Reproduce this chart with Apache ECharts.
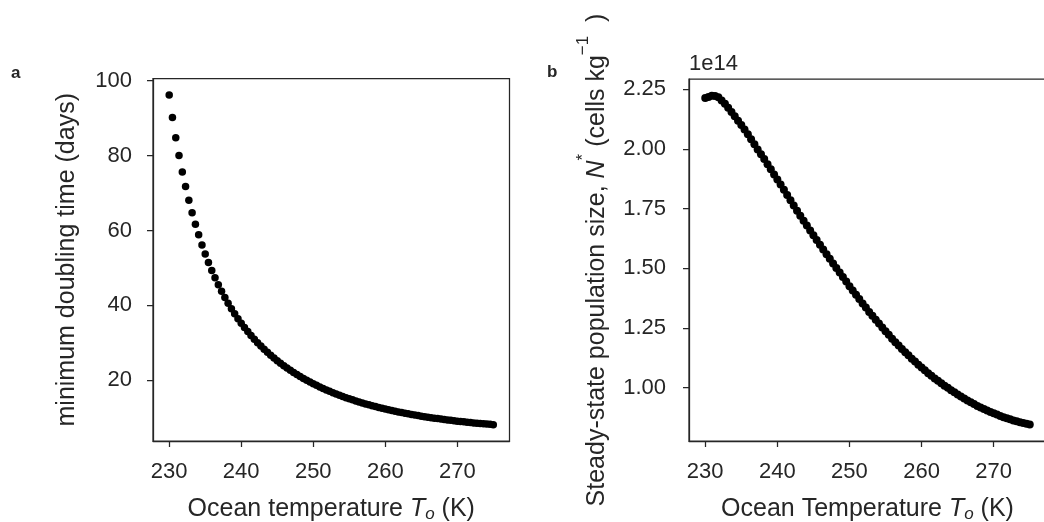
<!DOCTYPE html>
<html><head><meta charset="utf-8">
<script src="https://cdn.jsdelivr.net/npm/echarts@6/dist/echarts.min.js"></script>
<style>html,body{margin:0;padding:0;background:#fff}#c{width:1044px;height:522px}</style>
</head><body><div id="c"></div>
<script>
const temperatureK = [
230.00,230.45,230.91,231.36,231.82,232.27,232.73,233.18,233.64,234.09,
234.55,235.00,235.45,235.91,236.36,236.82,237.27,237.73,238.18,238.64,
239.09,239.55,240.00,240.45,240.91,241.36,241.82,242.27,242.73,243.18,
243.64,244.09,244.55,245.00,245.45,245.91,246.36,246.82,247.27,247.73,
248.18,248.64,249.09,249.55,250.00,250.45,250.91,251.36,251.82,252.27,
252.73,253.18,253.64,254.09,254.55,255.00,255.45,255.91,256.36,256.82,
257.27,257.73,258.18,258.64,259.09,259.55,260.00,260.45,260.91,261.36,
261.82,262.27,262.73,263.18,263.64,264.09,264.55,265.00,265.45,265.91,
266.36,266.82,267.27,267.73,268.18,268.64,269.09,269.55,270.00,270.45,
270.91,271.36,271.82,272.27,272.73,273.18,273.64,274.09,274.55,275.00];
const doublingTimeDays = [
96.2,90.2,84.8,80.05,75.66,71.73,68.06,64.77,61.65,58.85,
56.16,53.76,51.48,49.35,47.37,45.50,43.77,42.12,40.60,39.13,
37.78,36.47,35.27,34.12,33.02,31.98,30.98,30.05,29.14,28.30,
27.47,26.71,25.95,25.25,24.57,23.92,23.30,22.69,22.12,21.56,
21.03,20.52,20.03,19.55,19.10,18.68,18.24,17.85,17.45,17.07,
16.71,16.36,16.02,15.70,15.38,15.07,14.79,14.50,14.23,13.96,
13.70,13.46,13.22,12.99,12.77,12.55,12.34,12.14,11.94,11.76,
11.57,11.40,11.22,11.06,10.90,10.74,10.59,10.44,10.30,10.16,
10.03,9.90,9.78,9.65,9.54,9.42,9.31,9.20,9.10,9.01,
8.91,8.82,8.73,8.64,8.55,8.47,8.39,8.32,8.24,8.17];
// steady-state population size, in units of 1e14 cells/kg
const populationE14 = [
2.213,2.218,2.223,2.222,2.216,2.203,2.189,2.173,2.155,2.137,
2.118,2.100,2.081,2.061,2.041,2.020,1.998,1.978,1.958,1.936,
1.915,1.893,1.872,1.851,1.829,1.807,1.785,1.763,1.741,1.720,
1.699,1.679,1.658,1.638,1.618,1.598,1.579,1.559,1.540,1.520,
1.501,1.482,1.463,1.444,1.425,1.407,1.389,1.371,1.352,1.335,
1.317,1.301,1.284,1.268,1.252,1.236,1.221,1.205,1.190,1.176,
1.162,1.148,1.135,1.121,1.109,1.096,1.084,1.072,1.060,1.049,
1.038,1.028,1.018,1.008,0.999,0.989,0.980,0.971,0.962,0.954,
0.946,0.938,0.931,0.923,0.916,0.910,0.904,0.898,0.892,0.887,
0.881,0.876,0.871,0.867,0.862,0.859,0.855,0.851,0.848,0.845];
const xTicks = [230, 240, 250, 260, 270];
const yTicksLeft = [20, 40, 60, 80, 100];
const yTicksRight = [1.00, 1.25, 1.50, 1.75, 2.00, 2.25];

const INK = '#262626';
const FONT = '"Liberation Sans", Arial, sans-serif';
const TICK_FS = 22, LABEL_FS = 25;

const chart = echarts.init(document.getElementById('c'), null, {renderer: 'canvas'});

function xAxisCfg(gridIndex, nameRich) {
  return {
    type: 'value', gridIndex, min: 227.75, max: 277.25,
    axisLine: {show: true, onZero: false, lineStyle: {color: INK, width: 1.25}},
    axisTick: {show: true, length: 6, inside: false, customValues: xTicks, lineStyle: {color: INK, width: 1.25}},
    axisLabel: {customValues: xTicks, color: INK, fontFamily: FONT, fontSize: TICK_FS, margin: 20, formatter: v => String(Math.round(v))},
    splitLine: {show: false},
    name: nameRich, nameLocation: 'middle', nameGap: 54,
    nameTextStyle: {
      color: INK, fontFamily: FONT, fontSize: LABEL_FS,
      rich: {
        n: {color: INK, fontFamily: FONT, fontSize: LABEL_FS, lineHeight: 28},
        it: {color: INK, fontFamily: FONT, fontSize: LABEL_FS, fontStyle: 'italic', lineHeight: 28},
        sub: {color: INK, fontFamily: FONT, fontSize: 17, fontStyle: 'italic', verticalAlign: 'bottom', lineHeight: 15}
      }
    }
  };
}

const option = {
  animation: false,
  backgroundColor: '#ffffff',
  grid: [
    {left: 153, top: 78.5, width: 356.5, height: 362.5, show: true, borderColor: INK, borderWidth: 1.25, containLabel: false, outerBoundsMode: 'none'},
    {left: 689, top: 79, width: 357, height: 362, show: true, borderColor: INK, borderWidth: 1.25, containLabel: false, outerBoundsMode: 'none'}
  ],
  xAxis: [
    xAxisCfg(0, '{n|Ocean temperature }{it|T}{sub|o}{n| (K)}'),
    xAxisCfg(1, '{n|Ocean Temperature }{it|T}{sub|o}{n| (K)}')
  ],
  yAxis: [
    {
      type: 'value', gridIndex: 0, min: 3.8, max: 100.6,
      axisLine: {show: true, onZero: false, lineStyle: {color: INK, width: 1.25}},
      axisTick: {show: true, length: 6, customValues: yTicksLeft, lineStyle: {color: INK, width: 1.25}},
      axisLabel: {customValues: yTicksLeft, color: INK, fontFamily: FONT, fontSize: TICK_FS, margin: 21, formatter: v => String(Math.round(v))},
      splitLine: {show: false},
      name: 'minimum doubling time (days)', nameLocation: 'middle', nameRotate: 90, nameGap: 73,
      nameTextStyle: {color: INK, fontFamily: FONT, fontSize: LABEL_FS}
    },
    {
      type: 'value', gridIndex: 1, min: 0.776, max: 2.293,
      axisLine: {show: true, onZero: false, lineStyle: {color: INK, width: 1.25}},
      axisTick: {show: true, length: 6, customValues: yTicksRight, lineStyle: {color: INK, width: 1.25}},
      axisLabel: {customValues: yTicksRight, color: INK, fontFamily: FONT, fontSize: TICK_FS, margin: 23, formatter: v => v.toFixed(2)},
      splitLine: {show: false},
      name: '{n|Steady-state population size, }{it|N}{star|*}{n| (cells kg}{sup|−1}{n|  )}',
      nameLocation: 'middle', nameRotate: 90, nameGap: 70,
      nameTextStyle: {
        color: INK, fontFamily: FONT, fontSize: LABEL_FS,
        rich: {
          n: {color: INK, fontFamily: FONT, fontSize: LABEL_FS, lineHeight: 44},
          it: {color: INK, fontFamily: FONT, fontSize: LABEL_FS, fontStyle: 'italic', lineHeight: 44},
          star: {color: INK, fontFamily: FONT, fontSize: 17, verticalAlign: 'top', lineHeight: 24},
          sup: {color: INK, fontFamily: FONT, fontSize: 17, verticalAlign: 'top', lineHeight: 10}
        }
      }
    }
  ],
  series: [
    {
      type: 'scatter', xAxisIndex: 0, yAxisIndex: 0,
      data: temperatureK.map((t, i) => [t, doublingTimeDays[i]]),
      symbol: 'circle', symbolSize: 7.5, itemStyle: {color: '#000000', opacity: 1}, silent: true
    },
    {
      type: 'scatter', xAxisIndex: 1, yAxisIndex: 1,
      data: temperatureK.map((t, i) => [t, populationE14[i]]),
      symbol: 'circle', symbolSize: 8, itemStyle: {color: '#000000', opacity: 1}, silent: true
    }
  ],
  graphic: [
    {type: 'text', left: 11, top: 65, style: {text: 'a', font: 'bold 17px "Liberation Sans"', fill: INK}},
    {type: 'text', left: 547, top: 64, style: {text: 'b', font: 'bold 17px "Liberation Sans"', fill: INK}},
    {type: 'text', left: 689, top: 53, style: {text: '1e14', font: '22px "Liberation Sans"', fill: INK}}
  ]
};
chart.setOption(option);
</script>
</body></html>
